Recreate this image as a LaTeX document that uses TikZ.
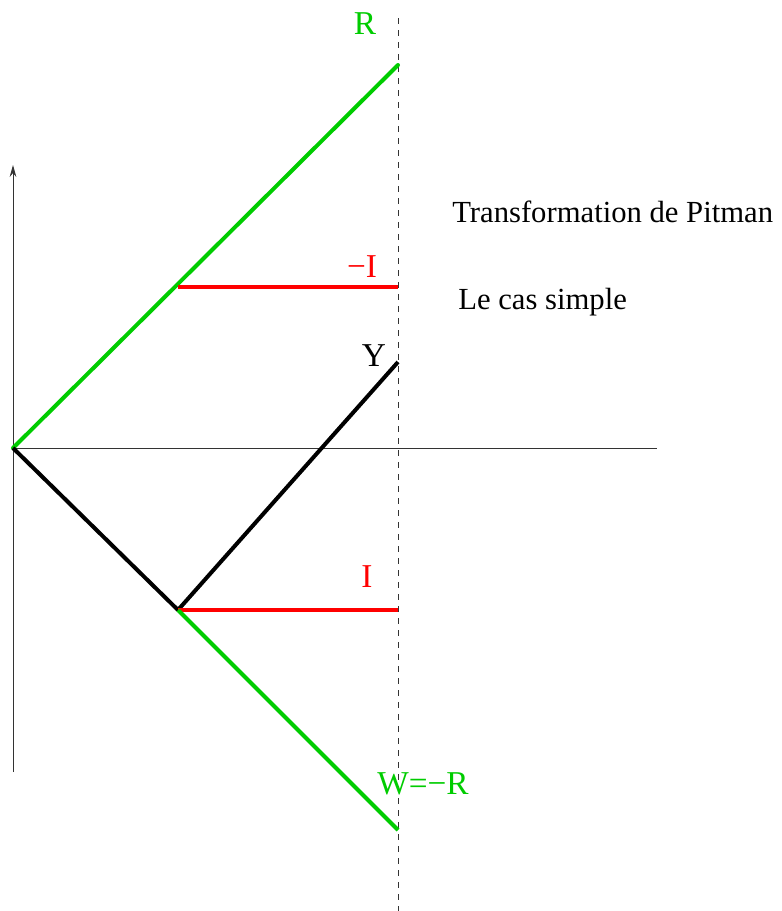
\documentclass[tikz,border=0pt]{standalone}
\usepackage{fontspec}
\setmainfont{Liberation Serif}
\usetikzlibrary{arrows.meta}
\definecolor{pgreen}{RGB}{0,204,0}
\definecolor{pred}{RGB}{255,0,0}
\tikzset{
  thickgreen/.style={draw=pgreen,line width=3pt},
  thickred/.style={draw=pred,line width=3pt},
  thickblack/.style={draw=black,line width=3pt},
  axisline/.style={draw=black!80,line width=0.75pt},
  dashline/.style={draw=black!80,line width=0.75pt,dash pattern=on 4.5pt off 4.5pt},
  lbl/.style={font=\fontsize{25}{30}\selectfont,inner sep=0pt},
  txt/.style={font=\fontsize{23}{28}\selectfont,inner sep=0pt,anchor=base west}
}
\begin{document}
\begin{tikzpicture}[x=0.75pt,y=-0.75pt]
\useasboundingbox (0,0) rectangle (782,911);
% coordinates
\coordinate (O) at (13,448);
\coordinate (Xend) at (657,448);
\coordinate (Ybot) at (13,772);
\coordinate (Ytop) at (13,165);
\coordinate (Dtop) at (398,18);
\coordinate (Dbot) at (398,911);
\coordinate (Rend) at (398,65);
\coordinate (Ma) at (178,287);
\coordinate (Mb) at (398,287);
\coordinate (B) at (178,610);
\coordinate (Yend) at (398,362);
\coordinate (Ib) at (398,610);
\coordinate (Wend) at (398,830);
% axes
\draw[axisline] (O) -- (Xend);
\draw[axisline,-{Stealth[length=9pt,width=5pt,inset=3pt]}] (Ybot) -- (Ytop);
\draw[dashline] (Dtop) -- (Dbot);
% paths
\draw[thickgreen,line cap=round] (O) -- (Rend);
\draw[thickred] (Ma) -- (Mb);
\draw[thickblack,line join=round] (O) -- (B) -- (Yend);
\draw[thickred] (B) -- (Ib);
\draw[thickgreen] (B) -- (Wend);
% labels
\node[lbl,text=pgreen] (lR) at (365,24) {R};
\node[lbl,text=pred] (lmI) at (362,267) {\textminus I};
\node[lbl,text=black] (lY) at (374,356) {Y};
\node[lbl,text=pred] (lI) at (367,577) {I};
\node[lbl,text=pgreen] (lW) at (423,784) {W=\textminus R};
\node[txt] (t1) at (452,222) {Transformation de Pitman};
\node[txt] (t2) at (458,309) {Le cas simple};
\end{tikzpicture}
\end{document}
